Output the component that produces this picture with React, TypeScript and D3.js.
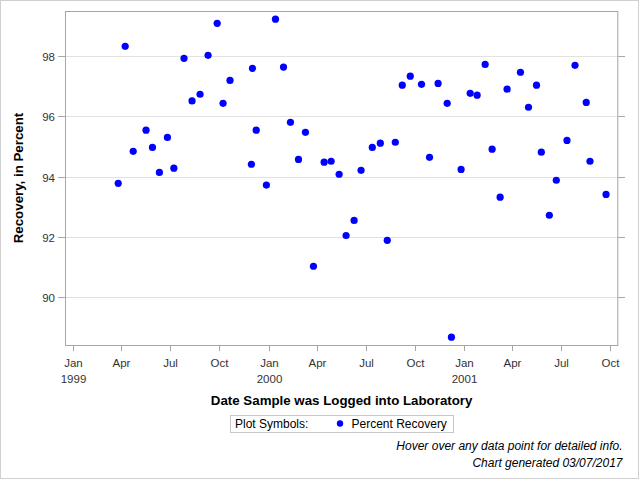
import React from "react";
import * as d3 from "d3";

const dates = ["1999-03-26","1999-04-08","1999-04-23","1999-05-17","1999-05-29","1999-06-11","1999-06-26","1999-07-08","1999-07-27","1999-08-11","1999-08-26","1999-09-10","1999-09-27","1999-10-08","1999-10-21","1999-11-30","1999-12-02","1999-12-09","1999-12-28","2000-01-14","2000-01-29","2000-02-11","2000-02-26","2000-03-10","2000-03-25","2000-04-14","2000-04-27","2000-05-12","2000-05-25","2000-06-09","2000-06-22","2000-07-13","2000-07-28","2000-08-10","2000-08-25","2000-09-07","2000-09-22","2000-10-13","2000-10-28","2000-11-13","2000-11-30","2000-12-08","2000-12-26","2001-01-12","2001-01-25","2001-02-09","2001-02-22","2001-03-09","2001-03-22","2001-04-16","2001-05-01","2001-05-16","2001-05-25","2001-06-09","2001-06-22","2001-07-12","2001-07-27","2001-08-17","2001-08-24","2001-09-23"];

const recovery = [93.78,98.32,94.84,95.54,94.97,94.14,95.30,94.28,97.92,96.51,96.73,98.02,99.08,96.43,97.19,94.41,97.59,95.54,93.72,99.22,97.63,95.80,94.57,95.47,91.03,94.48,94.51,94.08,92.05,92.55,94.21,94.97,95.11,91.89,95.14,97.03,97.33,97.06,94.64,97.09,96.43,88.68,94.24,96.76,96.70,97.72,94.91,93.32,96.90,97.46,96.30,97.03,94.81,92.72,93.88,95.20,97.69,96.46,94.51,93.41];

const yTicks = [90, 92, 94, 96, 98];
const xDomain = ["1998-12-16T12:00", "2001-10-15T22:00"];
const yDomain = [88.42, 99.49];

const xTitle = "Date Sample was Logged into Laboratory";
const yTitle = "Recovery, in Percent";
const legendLabel = "Plot Symbols:";
const seriesName = "Percent Recovery";
const footnotes = ["Hover over any data point for detailed info.", "Chart generated 03/07/2017"];

const FONT = "'Liberation Sans', Arial, sans-serif";

export default function App() {
  const W = 640, H = 480;
  const L = 65, R = 618.3, T = 11, B = 345;
  const parse = d3.timeParse("%Y-%m-%d");
  const parseDT = d3.timeParse("%Y-%m-%dT%H:%M");
  const x = d3.scaleTime().domain([parseDT(xDomain[0])!, parseDT(xDomain[1])!]).range([L, R]);
  const y = d3.scaleLinear().domain(yDomain).range([B, T]);
  const xTicks = x.ticks(d3.timeMonth.every(3)!);
  const fmtMonth = d3.timeFormat("%b");
  const fmtYear = d3.timeFormat("%Y");
  const pts = dates.map((d, i) => ({ d: parse(d)!, v: recovery[i] }));

  return (
    <div style={{ position: "absolute", left: 0, top: 0 }}>
      <svg width={W} height={H} style={{ display: "block", fontFamily: FONT }}>
        <rect x={0} y={0} width={W} height={H} fill="#fff" />
        <rect x={0.5} y={0.5} width={638} height={478} fill="none" stroke="#d0d0d0" strokeWidth={1} />
        {yTicks.map((t) => (
          <line key={"g" + t} x1={L} x2={R} y1={Math.round(y(t)) + 0.5} y2={Math.round(y(t)) + 0.5} stroke="#e2e2e2" />
        ))}
        <rect x={L + 0.5} y={T + 0.5} width={R - L - 1} height={B - T} fill="none" stroke="#a6a6a6" />
        {yTicks.map((t) => {
          const yy = Math.round(y(t)) + 0.5;
          return (
            <g key={"yt" + t}>
              <line x1={58} x2={L} y1={yy} y2={yy} stroke="#a6a6a6" />
              <line x1={R} x2={625} y1={yy} y2={yy} stroke="#a6a6a6" />
              <text x={55} y={yy + 4} textAnchor="end" fontSize={11.5} fill="#333">{t}</text>
            </g>
          );
        })}
        {xTicks.map((t, i) => {
          const xx = Math.round(x(t)) + 0.5;
          const isJan = t.getMonth() === 0;
          return (
            <g key={"xt" + i}>
              <line x1={xx} x2={xx} y1={B} y2={B + 6} stroke="#a6a6a6" />
              <text x={xx} y={367} textAnchor="middle" fontSize={11.5} fill="#333">{fmtMonth(t)}</text>
              {isJan && <text x={xx} y={382.5} textAnchor="middle" fontSize={11.5} fill="#333">{fmtYear(t)}</text>}
            </g>
          );
        })}
        {pts.map((p, i) => (
          <circle key={"p" + i} cx={x(p.d)} cy={y(p.v)} r={3.6} fill="#0000ff" />
        ))}
        <text x={(L + R) / 2} y={405} textAnchor="middle" fontSize={13.3} fontWeight="bold" fill="#000">{xTitle}</text>
        <text transform={`translate(23,${(T + B) / 2}) rotate(-90)`} textAnchor="middle" fontSize={13.3} fontWeight="bold" fill="#000">{yTitle}</text>
        <rect x={230.5} y={415.5} width={223} height={17} fill="#fff" stroke="#c8c8c8" />
        <text x={235} y={428} fontSize={12} fill="#000">{legendLabel}</text>
        <circle cx={340} cy={423.5} r={3.2} fill="#0000ff" />
        <text x={351.5} y={428} fontSize={12} fill="#000">{seriesName}</text>
        <text x={622.5} y={450} textAnchor="end" fontSize={12} fontStyle="italic" fill="#000">{footnotes[0]}</text>
        <text x={622.5} y={467} textAnchor="end" fontSize={12} fontStyle="italic" fill="#000">{footnotes[1]}</text>
      </svg>
    </div>
  );
}
